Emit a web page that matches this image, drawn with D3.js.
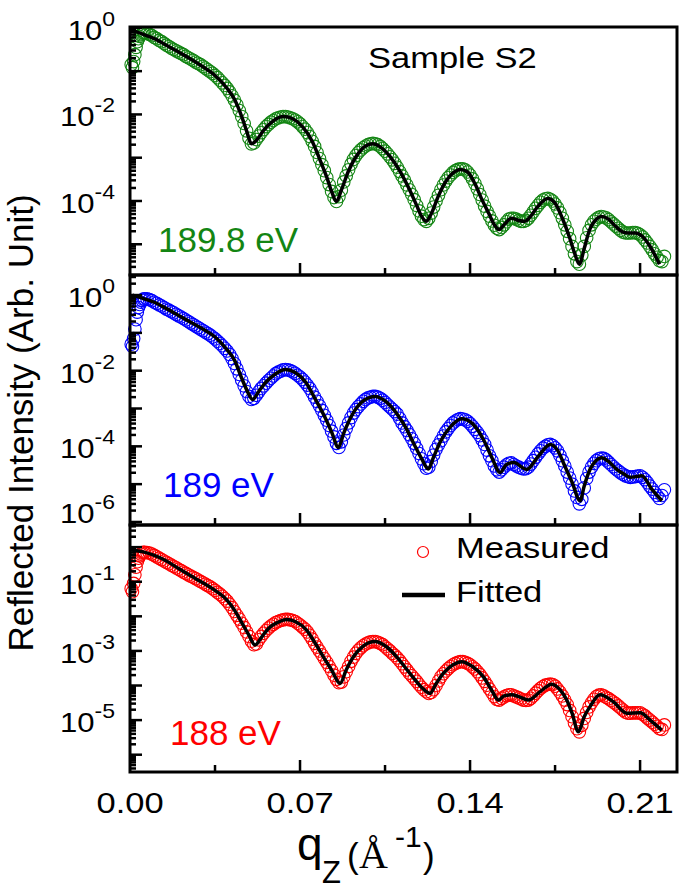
<!DOCTYPE html>
<html><head><meta charset="utf-8">
<script src="https://cdn.jsdelivr.net/npm/d3@7"></script>
<style>
body{margin:0;background:#fff}
svg{display:block}
text{font-family:"Liberation Sans", Arial, Helvetica, sans-serif; fill:#000}
</style>
</head><body>
<svg id="chart" width="685" height="890"></svg>
<script>
// ---------------- DATA ----------------
// measured q_z grid (1/Angstrom)
const qMeasured = [0.0005,0.001,0.0015,0.002,0.0025,0.003,0.0035,0.004,0.0045,0.005,0.0055,0.006,
 0.007,0.008,0.009,0.010,0.011,0.012,0.013,0.014,0.015,0.016,
 0.017,0.018,0.019,0.020,0.021,0.022,0.023,0.024,0.025,0.026,
 0.027,0.028,0.029,0.030,0.031,0.032,0.033,0.034,0.035,0.036,
 0.037,0.038,0.039,0.040,0.041,0.042,0.043,0.044,0.045,0.046,
 0.047,0.048,0.049,0.050,0.051,0.052,0.053,0.054,0.055,0.056,
 0.057,0.058,0.059,0.060,0.061,0.062,0.063,0.064,0.065,0.066,
 0.067,0.068,0.069,0.070,0.071,0.072,0.073,0.074,0.075,0.076,
 0.077,0.078,0.079,0.080,0.081,0.082,0.083,0.084,0.085,0.086,
 0.087,0.088,0.089,0.090,0.091,0.092,0.093,0.094,0.095,0.096,
 0.097,0.098,0.099,0.100,0.101,0.102,0.103,0.104,0.105,0.106,
 0.107,0.108,0.109,0.110,0.111,0.112,0.113,0.114,0.115,0.116,
 0.117,0.118,0.119,0.120,0.121,0.122,0.123,0.124,0.125,0.126,
 0.127,0.128,0.129,0.130,0.131,0.132,0.133,0.134,0.135,0.136,
 0.137,0.138,0.139,0.140,0.141,0.142,0.143,0.144,0.145,0.146,
 0.147,0.148,0.149,0.150,0.151,0.152,0.153,0.154,0.155,0.156,
 0.157,0.158,0.159,0.160,0.161,0.162,0.163,0.164,0.165,0.166,
 0.167,0.168,0.169,0.170,0.171,0.172,0.173,0.174,0.175,0.176,
 0.177,0.178,0.179,0.180,0.181,0.182,0.183,0.184,0.185,0.186,
 0.187,0.188,0.189,0.190,0.191,0.192,0.193,0.194,0.195,0.196,
 0.197,0.198,0.199,0.200,0.201,0.202,0.203,0.204,0.205,0.206,
 0.207,0.208,0.209,0.210,0.211,0.212,0.213,0.214,0.215,0.216,
 0.217,0.218,0.219,0.220];

// measured reflectivity, log10 of intensity
const measured1898 = [-0.85,-0.92,-0.78,-0.62,-0.45,-0.32,-0.25,-0.20,-0.16,-0.14,-0.12,-0.12,
 -0.13,-0.15,-0.18,-0.22,-0.25,-0.29,-0.32,-0.36,-0.40,-0.43,
 -0.47,-0.50,-0.53,-0.56,-0.59,-0.62,-0.66,-0.69,-0.72,-0.75,
 -0.79,-0.82,-0.85,-0.89,-0.93,-0.97,-1.01,-1.05,-1.10,-1.15,
 -1.21,-1.27,-1.33,-1.40,-1.48,-1.57,-1.67,-1.78,-1.91,-2.05,
 -2.21,-2.38,-2.55,-2.68,-2.66,-2.58,-2.50,-2.42,-2.35,-2.28,
 -2.23,-2.18,-2.14,-2.10,-2.08,-2.06,-2.05,-2.05,-2.06,-2.08,
 -2.10,-2.13,-2.17,-2.22,-2.28,-2.34,-2.42,-2.51,-2.62,-2.74,
 -2.88,-3.02,-3.16,-3.30,-3.46,-3.62,-3.78,-3.92,-4.01,-3.90,
 -3.75,-3.56,-3.42,-3.28,-3.15,-3.04,-2.95,-2.88,-2.82,-2.77,
 -2.73,-2.70,-2.68,-2.67,-2.68,-2.70,-2.74,-2.79,-2.85,-2.91,
 -2.98,-3.05,-3.13,-3.22,-3.32,-3.42,-3.52,-3.63,-3.74,-3.85,
 -3.97,-4.10,-4.23,-4.35,-4.43,-4.47,-4.40,-4.28,-4.14,-4.00,
 -3.87,-3.74,-3.63,-3.54,-3.46,-3.40,-3.34,-3.30,-3.27,-3.26,
 -3.26,-3.28,-3.33,-3.40,-3.49,-3.60,-3.72,-3.85,-3.98,-4.12,
 -4.24,-4.35,-4.46,-4.56,-4.63,-4.66,-4.61,-4.55,-4.48,-4.42,
 -4.40,-4.40,-4.42,-4.45,-4.47,-4.47,-4.45,-4.40,-4.33,-4.25,
 -4.17,-4.10,-4.03,-3.98,-3.95,-3.94,-3.96,-4.00,-4.07,-4.16,
 -4.27,-4.40,-4.55,-4.70,-4.87,-5.05,-5.22,-5.40,-5.46,-5.25,
 -5.05,-4.85,-4.68,-4.55,-4.47,-4.42,-4.38,-4.36,-4.37,-4.39,
 -4.43,-4.48,-4.53,-4.58,-4.63,-4.68,-4.72,-4.74,-4.74,-4.74,
 -4.73,-4.73,-4.75,-4.78,-4.83,-4.90,-4.97,-5.05,-5.13,-5.22,
 -5.30,-5.38,-5.40,-5.28];
const measured189 = [-1.30,-1.36,-1.15,-0.90,-0.65,-0.45,-0.33,-0.25,-0.19,-0.14,-0.11,-0.10,
 -0.10,-0.12,-0.15,-0.19,-0.22,-0.26,-0.29,-0.33,-0.37,-0.40,
 -0.44,-0.47,-0.51,-0.55,-0.58,-0.62,-0.66,-0.70,-0.74,-0.78,
 -0.82,-0.86,-0.90,-0.94,-0.98,-1.02,-1.06,-1.11,-1.16,-1.22,
 -1.28,-1.34,-1.41,-1.48,-1.57,-1.68,-1.81,-1.95,-2.10,-2.25,
 -2.40,-2.55,-2.68,-2.76,-2.73,-2.65,-2.56,-2.47,-2.40,-2.33,
 -2.26,-2.20,-2.14,-2.08,-2.04,-2.01,-1.98,-1.97,-1.98,-2.00,
 -2.03,-2.07,-2.12,-2.17,-2.23,-2.30,-2.38,-2.47,-2.58,-2.70,
 -2.81,-2.93,-3.05,-3.18,-3.31,-3.45,-3.60,-3.75,-3.92,-4.03,
 -3.88,-3.70,-3.53,-3.38,-3.24,-3.12,-3.03,-2.95,-2.88,-2.81,
 -2.76,-2.72,-2.70,-2.68,-2.68,-2.70,-2.73,-2.78,-2.84,-2.90,
 -2.96,-3.02,-3.08,-3.15,-3.26,-3.38,-3.48,-3.58,-3.69,-3.80,
 -3.92,-4.05,-4.19,-4.33,-4.46,-4.58,-4.55,-4.40,-4.23,-4.08,
 -3.96,-3.85,-3.73,-3.62,-3.53,-3.45,-3.38,-3.33,-3.29,-3.27,
 -3.28,-3.30,-3.34,-3.40,-3.47,-3.55,-3.63,-3.72,-3.83,-3.95,
 -4.10,-4.25,-4.38,-4.52,-4.62,-4.68,-4.62,-4.55,-4.49,-4.45,
 -4.44,-4.48,-4.52,-4.55,-4.58,-4.60,-4.59,-4.55,-4.47,-4.38,
 -4.29,-4.20,-4.12,-4.05,-4.00,-3.96,-3.95,-3.98,-4.04,-4.12,
 -4.24,-4.38,-4.52,-4.68,-4.84,-5.00,-5.18,-5.35,-5.52,-5.40,
 -5.10,-4.85,-4.68,-4.55,-4.45,-4.38,-4.33,-4.31,-4.32,-4.36,
 -4.42,-4.48,-4.54,-4.60,-4.65,-4.70,-4.74,-4.78,-4.80,-4.82,
 -4.81,-4.80,-4.79,-4.78,-4.82,-4.88,-4.96,-5.05,-5.13,-5.22,
 -5.30,-5.38,-5.30,-5.15];
const measured188 = [-1.20,-1.29,-1.05,-0.80,-0.58,-0.42,-0.32,-0.25,-0.20,-0.17,-0.15,-0.15,
 -0.16,-0.17,-0.20,-0.24,-0.28,-0.32,-0.36,-0.40,-0.44,-0.48,
 -0.52,-0.56,-0.60,-0.64,-0.68,-0.72,-0.76,-0.80,-0.84,-0.87,
 -0.91,-0.95,-0.99,-1.03,-1.07,-1.11,-1.15,-1.20,-1.25,-1.31,
 -1.36,-1.42,-1.49,-1.56,-1.65,-1.75,-1.86,-1.97,-2.08,-2.20,
 -2.32,-2.45,-2.58,-2.72,-2.82,-2.80,-2.68,-2.58,-2.49,-2.41,
 -2.34,-2.28,-2.23,-2.18,-2.15,-2.12,-2.10,-2.09,-2.09,-2.10,
 -2.12,-2.15,-2.20,-2.25,-2.31,-2.37,-2.45,-2.55,-2.66,-2.78,
 -2.89,-3.00,-3.11,-3.22,-3.33,-3.45,-3.57,-3.70,-3.82,-3.92,
 -3.90,-3.75,-3.60,-3.45,-3.30,-3.18,-3.07,-2.98,-2.91,-2.85,
 -2.80,-2.77,-2.74,-2.73,-2.73,-2.75,-2.78,-2.82,-2.88,-2.94,
 -3.00,-3.07,-3.13,-3.20,-3.28,-3.37,-3.46,-3.55,-3.64,-3.72,
 -3.80,-3.88,-3.97,-4.05,-4.12,-4.18,-4.23,-4.20,-4.12,-4.00,
 -3.87,-3.75,-3.66,-3.58,-3.51,-3.45,-3.40,-3.36,-3.33,-3.31,
 -3.31,-3.33,-3.36,-3.40,-3.46,-3.52,-3.60,-3.68,-3.78,-3.88,
 -3.99,-4.10,-4.21,-4.32,-4.40,-4.42,-4.37,-4.33,-4.29,-4.27,
 -4.27,-4.30,-4.33,-4.36,-4.39,-4.42,-4.43,-4.42,-4.37,-4.30,
 -4.22,-4.15,-4.08,-4.03,-3.99,-3.97,-3.96,-3.97,-4.02,-4.10,
 -4.19,-4.30,-4.42,-4.55,-4.72,-4.90,-5.08,-5.25,-5.34,-5.15,
 -4.95,-4.78,-4.62,-4.50,-4.40,-4.32,-4.28,-4.27,-4.30,-4.34,
 -4.38,-4.43,-4.48,-4.53,-4.59,-4.65,-4.71,-4.77,-4.80,-4.80,
 -4.79,-4.79,-4.79,-4.79,-4.83,-4.88,-4.94,-5.00,-5.06,-5.12,
 -5.18,-5.25,-5.27,-5.14];

// fitted curves (q, log10 intensity)
const qFit1898 = [0.001,0.005,0.010,0.015,0.020,0.025,0.030,0.035,0.040,0.043,
 0.046,0.048,0.050,0.052,0.055,0.059,0.063,0.067,0.071,0.075,
 0.078,0.081,0.083,0.085,0.087,0.090,0.094,0.097,0.100,0.103,
 0.107,0.111,0.115,0.118,0.120,0.122,0.124,0.127,0.130,0.133,
 0.136,0.139,0.142,0.145,0.148,0.150,0.152,0.154,0.157,0.160,
 0.1625,0.165,0.168,0.172,0.175,0.178,0.181,0.183,0.185,0.187,
 0.189,0.192,0.194,0.197,0.200,0.203,0.205,0.208,0.211,0.214,0.218];
const fit1898 = [-0.06,-0.14,-0.25,-0.40,-0.56,-0.72,-0.90,-1.10,-1.40,-1.65,
 -2.05,-2.38,-2.68,-2.60,-2.37,-2.15,-2.05,-2.10,-2.28,-2.62,
 -3.02,-3.45,-3.78,-4.01,-3.75,-3.30,-2.90,-2.73,-2.68,-2.75,
 -2.97,-3.30,-3.73,-4.10,-4.35,-4.47,-4.30,-3.88,-3.55,-3.35,
 -3.27,-3.33,-3.60,-3.98,-4.32,-4.55,-4.66,-4.55,-4.40,-4.45,
 -4.47,-4.35,-4.12,-3.94,-4.05,-4.40,-4.85,-5.20,-5.46,-5.10,
 -4.70,-4.42,-4.36,-4.42,-4.59,-4.72,-4.74,-4.74,-4.82,-5.04,-5.46];
const qFit189 = [0.001,0.005,0.010,0.015,0.020,0.025,0.030,0.035,0.040,0.043,
 0.046,0.048,0.0505,0.053,0.056,0.060,0.064,0.068,0.0725,0.076,
 0.080,0.083,0.0858,0.088,0.092,0.096,0.101,0.105,0.110,0.1135,
 0.117,0.120,0.1228,0.125,0.128,0.132,0.1365,0.141,0.1455,0.149,
 0.1524,0.155,0.158,0.1633,0.168,0.173,0.176,0.179,0.182,0.1853,
 0.187,0.1894,0.1942,0.197,0.2004,0.2035,0.2059,0.2085,0.2107,0.2148,0.219];
const fit189 = [0.00,-0.08,-0.19,-0.36,-0.54,-0.72,-0.90,-1.11,-1.45,-1.72,
 -2.20,-2.50,-2.76,-2.55,-2.30,-2.08,-1.97,-2.05,-2.32,-2.72,
 -3.20,-3.62,-4.03,-3.65,-3.11,-2.80,-2.68,-2.80,-3.15,-3.50,
 -3.95,-4.32,-4.60,-4.28,-3.85,-3.48,-3.27,-3.40,-3.82,-4.30,
 -4.69,-4.48,-4.43,-4.61,-4.27,-3.95,-4.10,-4.52,-4.95,-5.44,
 -5.05,-4.61,-4.30,-4.40,-4.61,-4.74,-4.82,-4.80,-4.78,-5.13,-5.44];
const qFit188 = [0.001,0.005,0.010,0.015,0.020,0.025,0.030,0.035,0.040,0.043,
 0.046,0.049,0.0515,0.054,0.057,0.061,0.0645,0.068,0.0727,0.076,
 0.0796,0.083,0.0865,0.089,0.092,0.096,0.1009,0.105,0.1098,0.113,
 0.1167,0.120,0.1235,0.126,0.129,0.133,0.1365,0.141,0.1455,0.149,
 0.1517,0.154,0.1571,0.160,0.164,0.169,0.1736,0.177,0.1798,0.182,
 0.1846,0.187,0.1894,0.1935,0.199,0.2045,0.210,0.2141,0.2189];
const fit188 = [-0.08,-0.13,-0.24,-0.40,-0.62,-0.83,-1.03,-1.25,-1.54,-1.82,
 -2.18,-2.55,-2.83,-2.62,-2.35,-2.17,-2.09,-2.15,-2.40,-2.75,
 -3.17,-3.55,-3.94,-3.55,-3.17,-2.86,-2.73,-2.85,-3.17,-3.45,
 -3.78,-4.05,-4.23,-3.95,-3.65,-3.40,-3.31,-3.45,-3.75,-4.15,
 -4.42,-4.30,-4.27,-4.32,-4.42,-4.17,-3.96,-4.12,-4.42,-4.80,
 -5.34,-4.90,-4.61,-4.27,-4.47,-4.80,-4.79,-5.00,-5.29];

const energyLabels = ["189.8 eV", "189 eV", "188 eV"];
const seriesColors = ["#138513", "#0000ff", "#ff0000"];
const xTickValues = [0.00, 0.07, 0.14, 0.21];
const xMinorTicks = [0.035, 0.105, 0.175];
const yLabelExps = [[0, -2, -4], [0, -2, -4, -6], [-1, -3, -5]];
const yDomainExp = [[-5.71, 0.02], [-6.08, 0.53], [-6.50, 0.64]];
const xDomain = [0, 0.2252];

// ---------------- LAYOUT ----------------
const L = 130, R = 677;
const panelTop = [27, 275, 525];
const panelBot = [275, 525, 772];
const SX = 1.15; // horizontal stretch of most text in the original

const svg = d3.select("#chart");
const x = d3.scaleLinear().domain(xDomain).range([L, R]);

const panels = [
  {q: qMeasured, m: measured1898, qf: qFit1898, f: fit1898},
  {q: qMeasured, m: measured189, qf: qFit189, f: fit189},
  {q: qMeasured, m: measured188, qf: qFit188, f: fit188}
];

function stext(parent, xx, yy, size, anchor, sx) {
  return parent.append("text")
    .attr("transform", `translate(${xx},${yy}) scale(${sx||1},1)`)
    .attr("font-size", size)
    .attr("text-anchor", anchor || "start");
}

panels.forEach((p, i) => {
  const top = panelTop[i], bot = panelBot[i];
  const y = d3.scaleLog()
    .domain([Math.pow(10, yDomainExp[i][0]), Math.pow(10, yDomainExp[i][1])])
    .range([bot, top]);
  const g = svg.append("g");

  // measured circles
  const n = Math.min(p.q.length, p.m.length);
  const pts = d3.range(n).map(k => ({q: p.q[k], v: Math.pow(10, p.m[k])}));
  g.selectAll("circle.m").data(pts).enter().append("circle")
    .attr("cx", d => x(d.q)).attr("cy", d => y(d.v)).attr("r", 6.3)
    .attr("fill", "none").attr("stroke", seriesColors[i]).attr("stroke-width", 1.1);

  // fitted line
  const fpts = p.qf.map((q, k) => ({q, v: Math.pow(10, p.f[k])}));
  const line = d3.line().x(d => x(d.q)).y(d => y(d.v)).curve(d3.curveMonotoneX);
  g.append("path").attr("d", line(fpts)).attr("fill", "none")
    .attr("stroke", "#000").attr("stroke-width", 3.5).attr("stroke-linejoin", "round");

  // y ticks (inside)
  y.ticks().forEach(v => {
    const e = Math.log10(v);
    const major = Math.abs(e - Math.round(e)) < 1e-9;
    const yy = y(v);
    if (yy < top + 0.5 || yy > bot - 0.5) return;
    g.append("line").attr("x1", L).attr("x2", L + (major ? 12 : 6))
      .attr("y1", yy).attr("y2", yy).attr("stroke", "#000").attr("stroke-width", 2.5);
  });
  // bottom x ticks (inside)
  xTickValues.concat(xMinorTicks).forEach(q => {
    if (q <= 0) return;
    const major = xTickValues.includes(q);
    g.append("line").attr("x1", x(q)).attr("x2", x(q))
      .attr("y1", bot).attr("y2", bot - (major ? 12 : 7))
      .attr("stroke", "#000").attr("stroke-width", 2.5);
  });

  // y tick labels
  yLabelExps[i].forEach(e => {
    const yy = y(Math.pow(10, e));
    const base = Math.min(yy + 12, bot - 2);
    const t = stext(g, 115, base, 27, "end", SX);
    t.append("tspan").text("10");
    t.append("tspan").attr("font-size", 20).attr("dy", -14).text(String(e));
  });

  // frame
  g.append("rect").attr("x", L).attr("y", top).attr("width", R - L).attr("height", bot - top)
    .attr("fill", "none").attr("stroke", "#000").attr("stroke-width", 3);

  // energy label
  const ex = [158, 163, 170][i], ey = [252, 497, 745][i];
  g.append("text").attr("x", ex).attr("y", ey).attr("font-size", 35)
    .style("fill", seriesColors[i]).text(energyLabels[i]);
});

// x tick labels
xTickValues.forEach(q => {
  stext(svg, x(q), 813, 30, "middle", SX).text(q.toFixed(2));
});

// Sample label
stext(svg, 368, 68, 30, "start", SX).text("Sample S2");

// legend
svg.append("circle").attr("cx", 423).attr("cy", 552).attr("r", 5.5)
  .attr("fill", "none").attr("stroke", seriesColors[2]).attr("stroke-width", 1.2);
stext(svg, 456, 558, 30, "start", SX).text("Measured");
svg.append("line").attr("x1", 402).attr("x2", 445).attr("y1", 595).attr("y2", 595)
  .attr("stroke", "#000").attr("stroke-width", 4.5);
stext(svg, 456, 602, 30, "start", SX).text("Fitted");

// y title
svg.append("text").attr("transform", "translate(33,423) rotate(-90)")
  .attr("font-size", 35).attr("text-anchor", "middle")
  .text("Reflected Intensity (Arb. Unit)");

// x title: q_Z (Å^-1)
svg.append("text").attr("x", 297).attr("y", 860).attr("font-size", 46).text("q");
svg.append("text").attr("x", 322).attr("y", 883).attr("font-size", 31).text("Z");
svg.append("text").attr("x", 347).attr("y", 868).attr("font-size", 35).text("(");
svg.append("text").attr("x", 359).attr("y", 868).attr("font-size", 40)
  .style("font-family", "'Liberation Serif', 'Times New Roman', serif").text("Å");
svg.append("text").attr("x", 395).attr("y", 847).attr("font-size", 30).text("-1");
svg.append("text").attr("x", 423).attr("y", 868).attr("font-size", 35).text(")");
</script>
</body></html>
